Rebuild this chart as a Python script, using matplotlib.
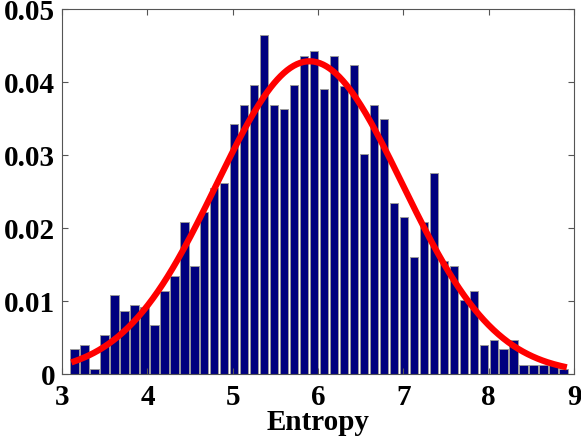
import numpy as np
import matplotlib
matplotlib.use("Agg")
import matplotlib.pyplot as plt

# histogram of entropy values (relative frequency per bin)
bin_start = 3.142
bin_width = 0.1171
freq = [0.0034, 0.0040, 0.0007, 0.0054, 0.0108, 0.0087, 0.0094, 0.0092, 0.0067, 0.0114,
        0.0134, 0.0208, 0.0148, 0.0222, 0.0255, 0.0262, 0.0343, 0.0369, 0.0396, 0.0464,
        0.0369, 0.0363, 0.0396, 0.0436, 0.0443, 0.0390, 0.0436, 0.0395, 0.0423, 0.0302,
        0.0369, 0.0349, 0.0235, 0.0215, 0.0161, 0.0208, 0.0275, 0.0155, 0.0148, 0.0101,
        0.0114, 0.0040, 0.0047, 0.0034, 0.0047, 0.0013, 0.0013, 0.0013, 0.0013, 0.0007]

# fitted normal curve parameters
mu = 5.9
sigma = 1.09

centers = bin_start + bin_width * np.arange(len(freq))
xs = np.linspace(centers[0], centers[-1], 300)
fit = bin_width * np.exp(-(xs - mu) ** 2 / (2 * sigma ** 2)) / (sigma * np.sqrt(2 * np.pi))

plt.rcParams['font.family'] = ['Liberation Serif', 'DejaVu Serif']
plt.rcParams['font.weight'] = 'bold'

fig = plt.figure(figsize=(5.81, 4.36), dpi=100)
ax = fig.add_axes([0.107, 0.142, 0.881, 0.837])

ax.bar(centers, freq, width=bin_width * 0.87, color='#00007F', edgecolor='#9a9a9a', linewidth=0.7)
ax.plot(xs, fit, color='red', linewidth=4.5)

ax.set_xlim(3, 9)
ax.set_ylim(0, 0.05)
ax.set_xticks(range(3, 10))
ax.set_yticks([0, 0.01, 0.02, 0.03, 0.04, 0.05])
ax.set_yticklabels(['0', '0.01', '0.02', '0.03', '0.04', '0.05'])
ax.tick_params(direction='in', length=4, width=0.8, top=True, right=True,
               labelsize=21, color='#555555')
ax.tick_params(axis='x', pad=7)
ax.tick_params(axis='y', pad=5)
for lbl in ax.get_xticklabels() + ax.get_yticklabels():
    lbl.set_fontweight('bold')
for s in ax.spines.values():
    s.set_color('#555555')
    s.set_linewidth(0.8)

ax.set_xlabel('Entropy', fontsize=21, fontweight='bold', labelpad=-1)

fig.savefig('out.png', dpi=100)
